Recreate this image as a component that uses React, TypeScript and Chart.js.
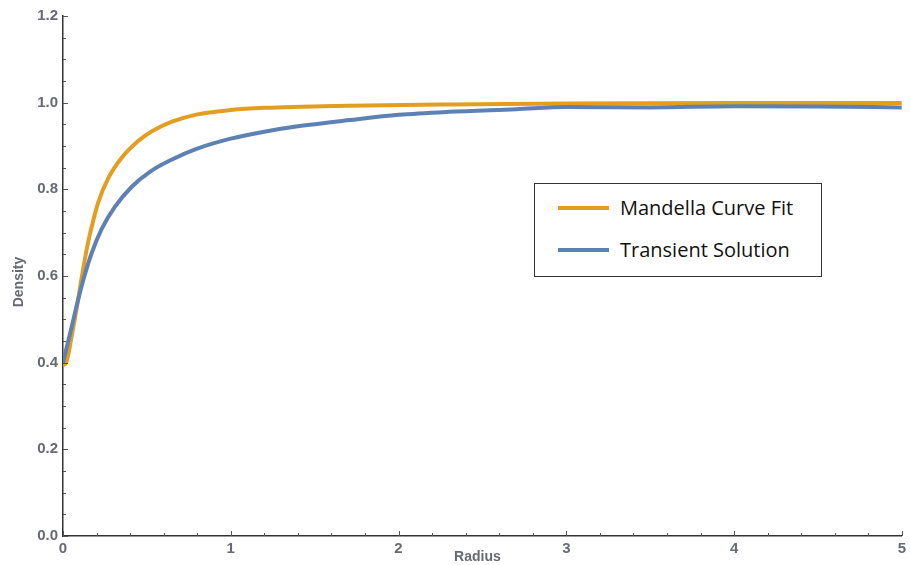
import React, { useEffect, useRef } from "react";
import { Chart, registerables } from "chart.js";
Chart.register(...registerables);

const mandellaR = [0, 0.01, 0.02, 0.035, 0.05, 0.07, 0.09, 0.11, 0.13, 0.15, 0.17, 0.21, 0.27, 0.35, 0.45, 0.53, 0.65, 0.8, 1.0, 1.2, 1.7, 2.3, 3.0, 4.0, 5.0];
const mandella = [0.395, 0.396, 0.402, 0.425, 0.458, 0.5, 0.545, 0.593, 0.638, 0.678, 0.712, 0.77, 0.826, 0.873, 0.912, 0.934, 0.956, 0.973, 0.983, 0.988, 0.993, 0.996, 0.998, 0.999, 0.999];
const transientR = [0, 0.02, 0.05, 0.09, 0.13, 0.17, 0.23, 0.31, 0.41, 0.52, 0.65, 0.8, 1.0, 1.2, 1.41, 1.71, 2.0, 2.3, 2.7, 3.0, 3.5, 4.0, 4.5, 5.0];
const transient = [0.4, 0.432, 0.48, 0.545, 0.603, 0.652, 0.708, 0.76, 0.806, 0.841, 0.869, 0.894, 0.917, 0.933, 0.946, 0.96, 0.972, 0.979, 0.985, 0.99, 0.989, 0.992, 0.991, 0.989];
const yTicks = [0, 0.2, 0.4, 0.6, 0.8, 1.0, 1.2];
const xTicks = [0, 1, 2, 3, 4, 5];
const seriesNames = ["Mandella Curve Fit", "Transient Solution"];
const colors = ["#E39E21", "#5E81B5"];
const labelColor = "#676a70";
const fontFamily = "'Liberation Sans', Arial, sans-serif";

const tickPlugin = {
  id: "inwardTicks",
  afterDraw(chart: any) {
    const ctx = chart.ctx;
    const xs = chart.scales.x;
    const ys = chart.scales.y;
    const area = chart.chartArea;
    ctx.save();
    ctx.strokeStyle = "#555";
    ctx.lineWidth = 1;
    for (let i = 0; i <= 25; i++) {
      const v = i * 0.2;
      const px = Math.round(xs.getPixelForValue(v)) + 0.5;
      const major = i % 5 === 0;
      const len = major ? 5 : 3;
      ctx.beginPath();
      ctx.moveTo(px, area.bottom);
      ctx.lineTo(px, area.bottom - len);
      ctx.stroke();
    }
    for (let i = 0; i <= 24; i++) {
      const v = i * 0.05;
      const py = Math.round(ys.getPixelForValue(v)) + 0.5;
      const major = i % 4 === 0;
      const len = major ? 5 : 3;
      ctx.beginPath();
      ctx.moveTo(area.left, py);
      ctx.lineTo(area.left + len, py);
      ctx.stroke();
    }
    ctx.fillStyle = labelColor;
    ctx.font = "bold 14px " + fontFamily;
    ctx.textAlign = "center";
    ctx.textBaseline = "middle";
    ctx.fillText("Radius", (area.left + area.right) / 2 - 5, 557);
    ctx.translate(19, 282);
    ctx.rotate(-Math.PI / 2);
    ctx.fillText("Density", 0, 0);
    ctx.restore();
  },
};

export default function App() {
  const ref = useRef<HTMLCanvasElement>(null);
  useEffect(() => {
    const chart = new Chart(ref.current!, {
      type: "line",
      data: {
        datasets: [
          {
            label: seriesNames[1],
            data: transientR.map((r, i) => ({ x: r, y: transient[i] })),
            borderColor: colors[1],
            borderWidth: 4,
            pointRadius: 0,
            cubicInterpolationMode: "monotone",
            fill: false,
          },
          {
            label: seriesNames[0],
            data: mandellaR.map((r, i) => ({ x: r, y: mandella[i] })),
            borderColor: colors[0],
            borderWidth: 4,
            pointRadius: 0,
            cubicInterpolationMode: "monotone",
            fill: false,
          },
        ],
      },
      options: {
        animation: false,
        responsive: false,
        layout: { padding: { top: 16, right: 6, left: 0, bottom: 0 } },
        plugins: { legend: { display: false }, tooltip: { enabled: false } },
        scales: {
          x: {
            type: "linear",
            min: 0,
            max: 5,
            afterFit: (s: any) => { s.height = 29; },
            afterBuildTicks: (s: any) => { s.ticks = xTicks.map((v) => ({ value: v })); },
            grid: { display: false, drawTicks: false, tickLength: 0 },
            border: { display: true, color: "#333", width: 1.5 },
            ticks: {
              color: labelColor,
              padding: 4,
              maxRotation: 0,
              font: { family: fontFamily, size: 15, weight: "bold" },
              callback: (v: any) => String(v),
            },
          },
          y: {
            min: 0,
            max: 1.2,
            afterFit: (s: any) => { s.width = 63; },
            afterBuildTicks: (s: any) => { s.ticks = yTicks.map((v) => ({ value: v })); },
            grid: { display: false, drawTicks: false, tickLength: 0 },
            border: { display: true, color: "#333", width: 1.5 },
            ticks: {
              color: labelColor,
              padding: 5,
              font: { family: fontFamily, size: 15, weight: "bold" },
              callback: (v: any) => Number(v).toFixed(1),
            },
          },
        },
      },
      plugins: [tickPlugin],
    } as any);
    return () => chart.destroy();
  }, []);

  const legendRow = (i: number, top: number) => (
    <div style={{ position: "absolute", left: 23, top, display: "flex", alignItems: "center" }}>
      <div style={{ width: 51, height: 4, background: colors[i] }} />
      <span style={{ marginLeft: 11, fontFamily: "'Open Sans', 'Noto Sans', sans-serif", fontSize: 20, color: "#111", lineHeight: "24px" }}>
        {seriesNames[i]}
      </span>
    </div>
  );

  return (
    <div style={{ position: "fixed", left: 0, top: 0, width: 910, height: 565, background: "#fff" }}>
      <canvas ref={ref} width={910} height={565} style={{ display: "block" }} />
      <div
        style={{
          position: "absolute",
          left: 534,
          top: 183,
          width: 286,
          height: 92,
          border: "1px solid #333",
          background: "#fff",
        }}
      >
        {legendRow(0, 12)}
        {legendRow(1, 54)}
      </div>
    </div>
  );
}
